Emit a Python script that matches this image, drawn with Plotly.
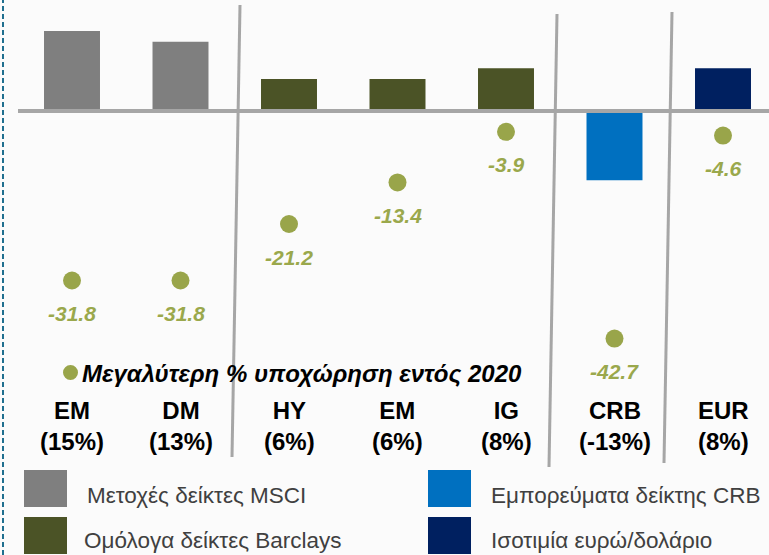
import plotly.graph_objects as go

# ---- data ----
categories = ["EM", "DM", "HY", "EM", "IG", "CRB", "EUR"]
returns_2020 = [15, 13, 6, 6, 8, -13, 8]          # bar values (%)
max_drawdown = [-31.8, -31.8, -21.2, -13.4, -3.9, -42.7, -4.6]  # dots (%)
groups = [0, 0, 1, 1, 1, 2, 3]
group_names = ["Μετοχές δείκτες MSCI", "Ομόλογα δείκτες Barclays",
               "Εμπορεύματα δείκτης CRB", "Ισοτιμία ευρώ/δολάριο"]
group_colors = ["#7f7f7f", "#4b5326", "#0070c0", "#002060"]
dot_label = "Μεγαλύτερη % υποχώρηση εντός 2020"

DOT = "#99a54a"
W, H = 769, 555
FONT = "Liberation Sans, Arial, sans-serif"

fig = go.Figure()

# bars by group
for g, (name, col) in enumerate(zip(group_names, group_colors)):
    xs = [i for i in range(len(categories)) if groups[i] == g]
    fig.add_trace(go.Bar(
        x=xs, y=[returns_2020[i] for i in xs], name=name,
        marker=dict(color=col, line=dict(width=0)),
        width=0.516, showlegend=False,
    ))

# drawdown dots
fig.add_trace(go.Scatter(
    x=list(range(len(categories))), y=max_drawdown, mode="markers",
    marker=dict(size=18, color=DOT), showlegend=False,
))

annotations = []
for i, v in enumerate(max_drawdown):
    annotations.append(dict(
        x=i, y=v, xref="x", yref="y", yshift=-33, showarrow=False,
        xanchor="center", yanchor="middle",
        text=f"<b><i>{v:.1f}</i></b>",
        font=dict(family=FONT, size=21, color="#9aa84c"),
    ))

# category labels
for i, (c, r) in enumerate(zip(categories, returns_2020)):
    annotations.append(dict(
        x=i, y=1 - 426 / H, xref="x", yref="paper", showarrow=False,
        xanchor="center", yanchor="middle",
        text=f"<b>{c}<br>({r}%)</b>", align="center",
        font=dict(family=FONT, size=24, color="#000000"),
    ))

# dot legend text
annotations.append(dict(
    x=80 / W, y=1 - 373 / H, xref="paper", yref="paper", xanchor="left",
    yanchor="middle", showarrow=False, text=f"<b><i>{dot_label}</i></b>",
    font=dict(family=FONT, size=24, color="#000000"),
))

shapes = []
# dot legend marker
shapes.append(dict(type="circle", xref="paper", yref="paper",
                   x0=63 / W, x1=78 / W, y0=1 - 380 / H, y1=1 - 365 / H,
                   fillcolor=DOT, line=dict(width=0)))

# legend squares + text
leg_pos = [(24, 470, 85, 495), (24, 517, 82, 540), (428, 470, 489, 495), (428, 517, 489, 540)]
for (sx, sy, tx, ty), name, col in zip(leg_pos, group_names, group_colors):
    shapes.append(dict(type="rect", xref="paper", yref="paper",
                       x0=sx / W, x1=(sx + 43) / W, y0=1 - (sy + 37) / H, y1=1 - sy / H,
                       fillcolor=col, line=dict(width=0)))
    annotations.append(dict(
        x=tx / W, y=1 - ty / H, xref="paper", yref="paper", xanchor="left",
        yanchor="middle", showarrow=False, text=name,
        font=dict(family=FONT, size=22.5, color="#404040"),
    ))

# baseline
shapes.append(dict(type="line", xref="paper", yref="y", x0=18 / W, x1=1, y0=0, y1=0,
                   line=dict(color="#a6a6a6", width=4), layer="above"))
# group separators
for (xa, ya, xb, yb) in [(240, 5, 232, 457), (557, 14, 549, 467), (672, 12, 664, 463)]:
    shapes.append(dict(type="line", xref="paper", yref="paper",
                       x0=xa / W, y0=1 - ya / H, x1=xb / W, y1=1 - yb / H,
                       line=dict(color="#a6a6a6", width=3)))
# left dashed border
shapes.append(dict(type="line", xref="paper", yref="paper",
                   x0=3 / W, x1=3 / W, y0=0, y1=1,
                   line=dict(color="#1f6f8f", width=2, dash="5px,3px")))

# axis scaling: x center 0 -> px 72, 108.5 px per unit; y 0 -> px 111, 5.33 px per unit
xs0 = -72 / 108.5
xs1 = (W - 72) / 108.5
ys1 = 111 / 5.33
ys0 = -(H - 111) / 5.33

fig.update_layout(
    width=W, height=H, margin=dict(l=0, r=0, t=0, b=0),
    paper_bgcolor="#fbfbfb", plot_bgcolor="rgba(0,0,0,0)",
    xaxis=dict(range=[xs0, xs1], visible=False, fixedrange=True),
    yaxis=dict(range=[ys0, ys1], visible=False, fixedrange=True),
    barmode="overlay", shapes=shapes, annotations=annotations,
    font=dict(family=FONT),
)

fig.write_html("out.html", config={"displayModeBar": False},
               post_script="document.body.style.margin='0';document.body.style.overflow='hidden';")
